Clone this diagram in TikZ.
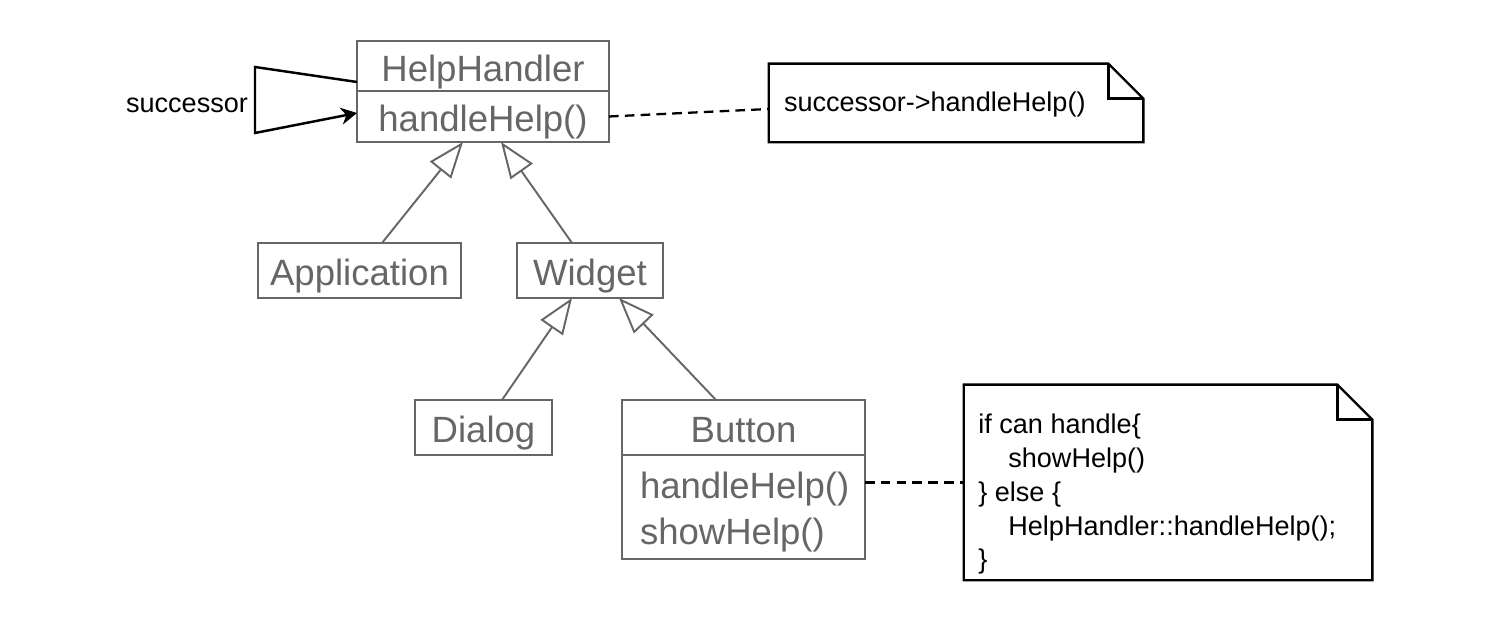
\documentclass[tikz,border=0pt]{standalone}
\usepackage{fontspec}
\setmainfont{Liberation Sans}
\usetikzlibrary{arrows.meta,positioning}
\definecolor{umlgray}{HTML}{666666}
\tikzset{
  cls/.style={draw=umlgray, text=umlgray, line width=1.1pt, inner sep=0pt, outer sep=0pt,
    font=\fontsize{20.8}{26.5}\selectfont, minimum height=1.1cm, text height=17.2pt, text depth=0pt},
  inherit/.style={draw=umlgray, line width=1.1pt, -{Triangle[open, length=0.72cm, width=0.54cm]}},
  notebox/.style={inner sep=0pt, font=\fontsize{15.4}{19.2}\selectfont},
  noteline/.style={line width=1.3pt},
  link/.style={line width=1.3pt, dash pattern=on 5.5pt off 3.5pt},
}
\begin{document}
\begin{tikzpicture}
    \useasboundingbox (0,0) rectangle (30.04,12.56);
    % Classi
    \node[cls, minimum width=5.04cm, minimum height=1cm] (hh) at (9.66,11.24) {HelpHandler};
    \node[cls, minimum width=5.04cm, minimum height=1.02cm, below=0pt of hh] (hhm) {handleHelp()};
    \node[cls, minimum width=4.06cm] (app) at (7.19,7.15) {Application};
    \node[cls, minimum width=2.92cm] (wid) at (11.8,7.15) {Widget};
    \node[cls, minimum width=2.74cm] (dlg) at (9.67,4.01) {Dialog};
    \node[cls, minimum width=4.86cm] (btn) at (14.87,4.01) {Button};
    \node[cls, minimum width=4.86cm, minimum height=2.08cm, below=0pt of btn, align=left, text width=4.14cm,
        text height=21pt, text depth={}] (btnm) {handleHelp()\\showHelp()};
    % Note
    \node[notebox, minimum width=7.48cm, minimum height=1.56cm, align=left, text width=6.88cm,
        text height=13.4pt, text depth=3.2pt] (n1) at (19.12,10.5) {successor->handleHelp()};
    \node[minimum width=8.16cm, minimum height=3.9cm, inner sep=0pt] (n2) at (23.36,2.91) {};
    \node[notebox, anchor=north west, align=left] (n2txt) at (19.56,4.28) {if can handle\{\\\hspace*{0.6cm}showHelp()\\\} else \{\\\hspace*{0.6cm}HelpHandler::handleHelp();\\\}};
    \foreach \n in {n1,n2} {
        \draw[noteline] (\n.south west) -- (\n.north west) -- ([xshift=-7mm]\n.north east) -- ([yshift=-7mm]\n.north east) -- (\n.south east) -- cycle;
        \draw[noteline] ([xshift=-7mm]\n.north east) |- ([yshift=-7mm]\n.north east);
    }
    % successor
    \coordinate (s1) at (5.1,11.22);
    \coordinate (s2) at (5.1,9.9);
    \draw[line width=1.4pt, -{Stealth[length=3.2mm, width=3.4mm]}] ([yshift=-3.2mm]hh.west) -- (s1) -- node[left, yshift=-1mm, font=\fontsize{15.4}{19.2}\selectfont] {successor} (s2) -- ([yshift=0.7mm]hhm.west);
    % Collegamenti alle note
    \draw[link] (hhm.east) -- ([yshift=-1.2mm]n1.west);
    \draw[link] (btnm.east |- n2.west) -- (n2.west);
    % Ereditarieta
    \draw[inherit] ([xshift=4.5mm]app.north) -- ([xshift=-4mm]hhm.south);
    \draw[inherit] ([xshift=-3.6mm]wid.north) -- ([xshift=3.6mm]hhm.south);
    \draw[inherit] ([xshift=3.7mm]dlg.north) -- ([xshift=-3.6mm]wid.south);
    \draw[inherit] ([xshift=-5.5mm]btn.north) -- ([xshift=5.8mm]wid.south);
\end{tikzpicture}
\end{document}
